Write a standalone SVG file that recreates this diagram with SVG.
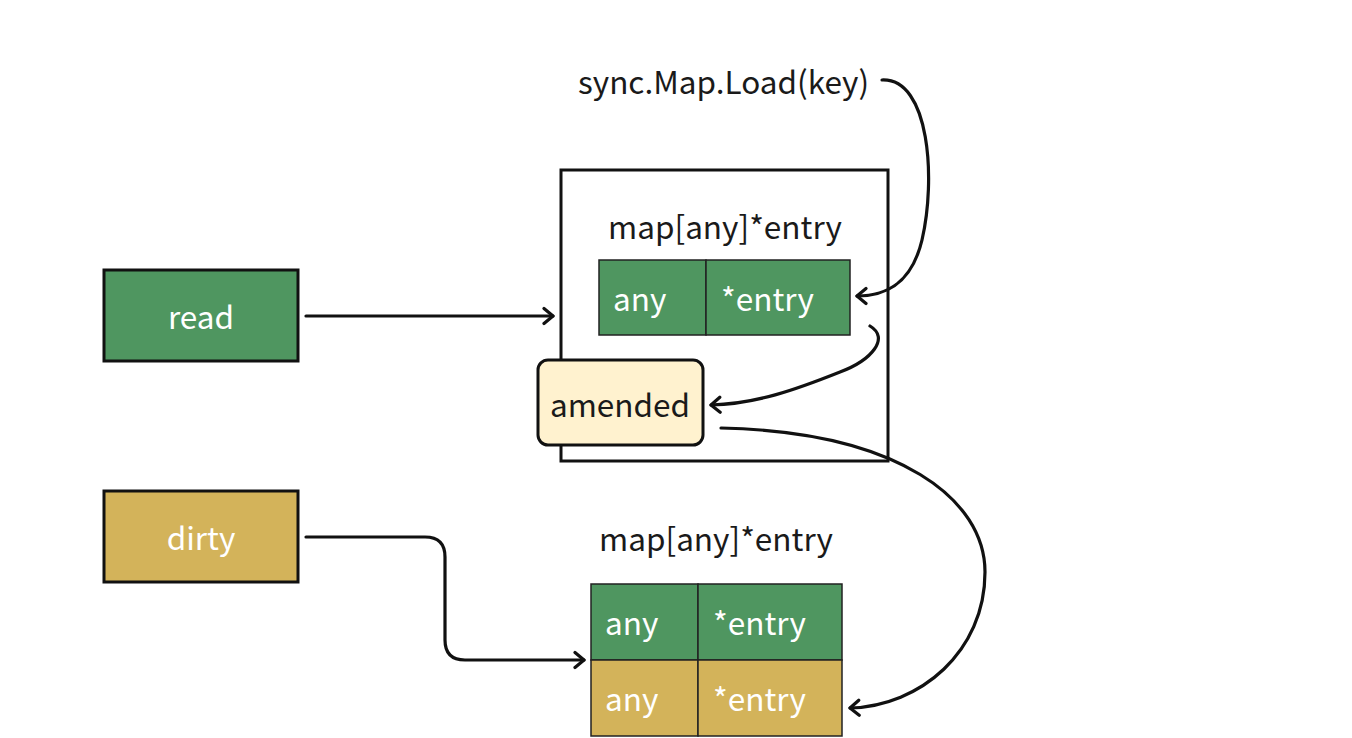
<svg xmlns="http://www.w3.org/2000/svg" width="1352" height="738" viewBox="0 0 1352 738">
  <defs>
    <marker id="arrow" viewBox="0 0 14 20" refX="12" refY="10" markerWidth="14" markerHeight="20" markerUnits="userSpaceOnUse" orient="auto">
      <path d="M3,2.5 L12,10 L3,17.5" fill="none" stroke="#111" stroke-width="3.2" stroke-linecap="round" stroke-linejoin="round"/>
    </marker>
  </defs>
  <style>
    text { font-family: "Noto Sans CJK SC", "Noto Sans", sans-serif; font-size: 31.5px; }
    .light { fill: #ffffff; }
    .dark { fill: #1a1a1a; }
    .green { fill: #4f9660; }
    .gold { fill: #d3b35a; }
    .box { stroke: #111; stroke-width: 3; }
    .cell { stroke: #222; stroke-width: 1.5; }
    .conn { fill: none; stroke: #111; stroke-width: 3.2; stroke-linecap: round; marker-end: url(#arrow); }
  </style>
  <rect width="1352" height="738" fill="#ffffff"/>

  <!-- sync.Map struct -->
  <g id="read">
    <rect class="green box" x="104" y="270" width="194" height="91"/>
    <text class="light" x="201" y="329" text-anchor="middle">read</text>
  </g>
  <g id="dirty">
    <rect class="gold box" x="104" y="491" width="194" height="91"/>
    <text class="light" x="201" y="550" text-anchor="middle">dirty</text>
  </g>

  <!-- readOnly container -->
  <g id="readonly">
    <rect x="561" y="170" width="327" height="291" fill="#ffffff" stroke="#111" stroke-width="3"/>
    <text class="dark" x="725" y="239" text-anchor="middle">map[any]*entry</text>
    <rect class="green cell" x="599" y="260" width="107" height="75"/>
    <rect class="green cell" x="706" y="260" width="144" height="75"/>
    <text class="light" x="613" y="311">any</text>
    <text class="light" x="721" y="311">*entry</text>
  </g>

  <g id="amended">
    <rect x="538" y="360" width="165" height="85" rx="10" fill="#fff2cf" stroke="#111" stroke-width="3"/>
    <text class="dark" x="620" y="417" text-anchor="middle">amended</text>
  </g>

  <g id="load">
    <text class="dark" x="578" y="94">sync.Map.Load(key)</text>
  </g>

  <!-- dirty map -->
  <g id="dirtymap">
    <text class="dark" x="716" y="551" text-anchor="middle">map[any]*entry</text>
    <rect class="green cell" x="591" y="584" width="107" height="76"/>
    <rect class="green cell" x="698" y="584" width="144" height="76"/>
    <rect class="gold cell" x="591" y="660" width="107" height="76"/>
    <rect class="gold cell" x="698" y="660" width="144" height="76"/>
    <text class="light" x="605" y="635">any</text>
    <text class="light" x="713" y="635">*entry</text>
    <text class="light" x="605" y="711">any</text>
    <text class="light" x="713" y="711">*entry</text>
  </g>

  <g id="connectors">
    <path class="conn" d="M306,316 L553,316"/>
    <path class="conn" d="M882,80 C930,78 936,180 922,240 C912,282 888,296 857,296"/>
    <path class="conn" d="M870,326 C890,338 872,360 840,372 C795,390 755,404 711,405"/>
    <path class="conn" d="M721,428 C900,432 985,500 985,572 C985,652 920,706 850,708"/>
    <path class="conn" d="M306,537 L425,537 Q445,537 445,557 L445,640 Q445,660 465,660 L584,660"/>
  </g>
</svg>
